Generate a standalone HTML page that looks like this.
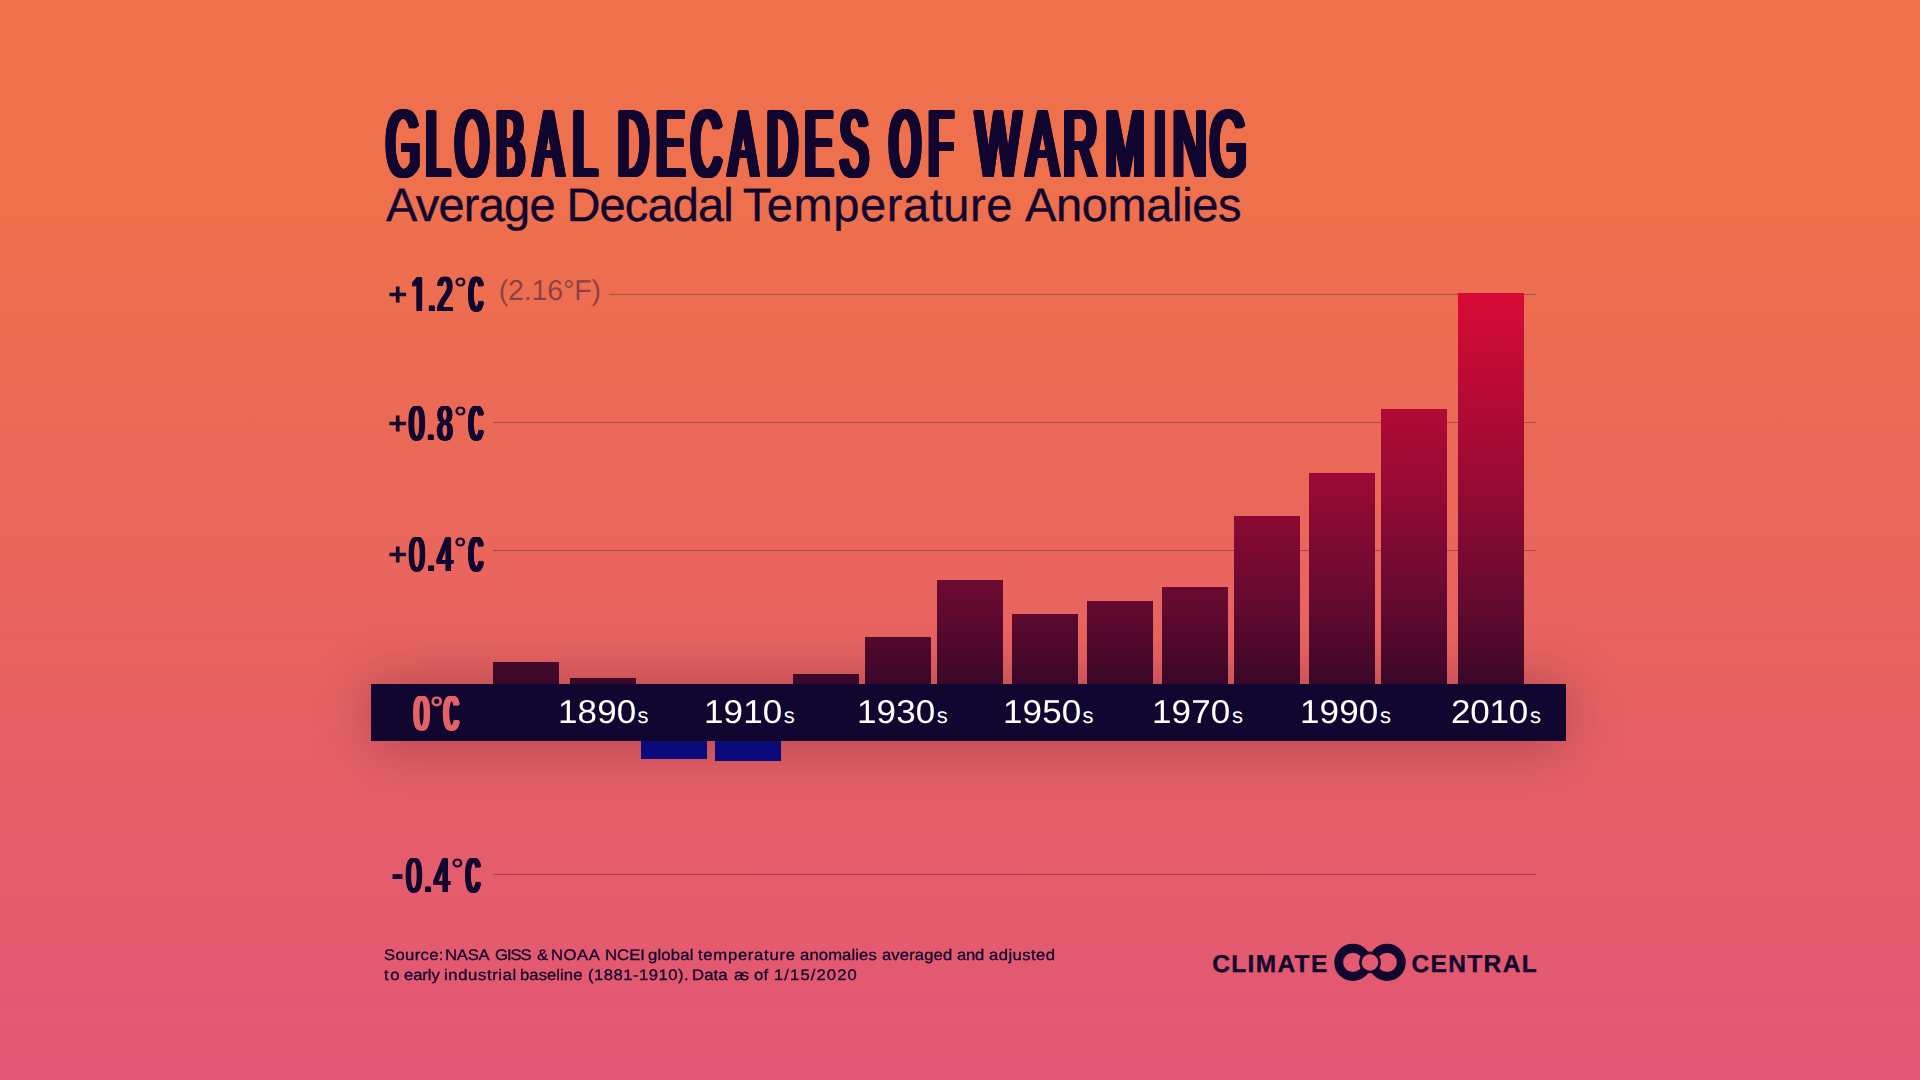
<!DOCTYPE html>
<html lang="en"><head><meta charset="utf-8"><title>Global Decades of Warming</title>
<style>
html,body{margin:0;padding:0;}
body{width:1920px;height:1080px;overflow:hidden;position:relative;font-family:"Liberation Sans",sans-serif;
background:linear-gradient(180deg,#ee704c 0px,#ee704c 205px,#e25675 1080px);}
.abs{position:absolute;}
.w{position:absolute;white-space:nowrap;line-height:1;display:block;transform-origin:0 0;text-rendering:geometricPrecision;}
.lb{position:absolute;left:0;top:0;white-space:nowrap;font-size:0;line-height:0;}
.ib{display:inline-block;vertical-align:top;position:relative;width:0;white-space:nowrap;line-height:1;transform-origin:0 0;text-rendering:geometricPrecision;}
svg text{font-family:"Liberation Sans",sans-serif;text-rendering:geometricPrecision;}
.grid{position:absolute;height:1px;background:rgba(17,6,48,0.31);}
.bar{position:absolute;width:66px;background:linear-gradient(180deg,#d90a37 0,#960a34 50%,#40092c 100%);background-size:66px 391px;background-repeat:no-repeat;}
.neg{position:absolute;width:66px;background:#0a0c8a;}
</style></head><body>

<svg class="abs" style="left:0;top:0;overflow:visible" width="1920" height="260" viewBox="0 0 1920 260" role="heading" aria-label="GLOBAL DECADES OF WARMING">
<text transform="scale(0.4535 1)" x="851.70 938.70 1003.81 1093.78 1177.65 1263.29" y="176" font-size="95.2" fill="#110630" style="text-shadow:-6.81px 0px 0 #110630,-5.67px 0px 0 #110630,-4.54px 0px 0 #110630,-3.40px 0px 0 #110630,-2.27px 0px 0 #110630,-1.13px 0px 0 #110630,1.13px 0px 0 #110630,2.27px 0px 0 #110630,3.40px 0px 0 #110630,4.54px 0px 0 #110630,5.67px 0px 0 #110630,6.81px 0px 0 #110630,-6.81px 1px 0 #110630,-5.67px 1px 0 #110630,-4.54px 1px 0 #110630,-3.40px 1px 0 #110630,-2.27px 1px 0 #110630,-1.13px 1px 0 #110630,0.00px 1px 0 #110630,1.13px 1px 0 #110630,2.27px 1px 0 #110630,3.40px 1px 0 #110630,4.54px 1px 0 #110630,5.67px 1px 0 #110630,6.81px 1px 0 #110630">GLOBAL</text>
<text transform="scale(0.4411 1)" x="1401.57 1487.96 1567.07 1653.16 1739.25 1824.85 1904.38" y="176" font-size="95.2" fill="#110630" style="text-shadow:-7.12px 0px 0 #110630,-5.93px 0px 0 #110630,-4.75px 0px 0 #110630,-3.56px 0px 0 #110630,-2.37px 0px 0 #110630,-1.19px 0px 0 #110630,1.19px 0px 0 #110630,2.37px 0px 0 #110630,3.56px 0px 0 #110630,4.75px 0px 0 #110630,5.93px 0px 0 #110630,7.12px 0px 0 #110630,-7.12px 1px 0 #110630,-5.93px 1px 0 #110630,-4.75px 1px 0 #110630,-3.56px 1px 0 #110630,-2.37px 1px 0 #110630,-1.19px 1px 0 #110630,0.00px 1px 0 #110630,1.19px 1px 0 #110630,2.37px 1px 0 #110630,3.56px 1px 0 #110630,4.75px 1px 0 #110630,5.93px 1px 0 #110630,7.12px 1px 0 #110630">DECADES</text>
<text transform="scale(0.4135 1)" x="2151.71 2246.34" y="176" font-size="95.2" fill="#110630" style="text-shadow:-7.89px 0px 0 #110630,-6.77px 0px 0 #110630,-5.64px 0px 0 #110630,-4.51px 0px 0 #110630,-3.38px 0px 0 #110630,-2.26px 0px 0 #110630,-1.13px 0px 0 #110630,1.13px 0px 0 #110630,2.26px 0px 0 #110630,3.38px 0px 0 #110630,4.51px 0px 0 #110630,5.64px 0px 0 #110630,6.77px 0px 0 #110630,7.89px 0px 0 #110630,-7.89px 1px 0 #110630,-6.77px 1px 0 #110630,-5.64px 1px 0 #110630,-4.51px 1px 0 #110630,-3.38px 1px 0 #110630,-2.26px 1px 0 #110630,-1.13px 1px 0 #110630,0.00px 1px 0 #110630,1.13px 1px 0 #110630,2.26px 1px 0 #110630,3.38px 1px 0 #110630,4.51px 1px 0 #110630,5.64px 1px 0 #110630,6.77px 1px 0 #110630,7.89px 1px 0 #110630">OF</text>
<text transform="scale(0.4975 1)" x="1961.69 2063.36 2136.98 2221.69 2318.47 2356.95 2431.92" y="176" font-size="95.2" fill="#110630" style="text-shadow:-5.81px 0px 0 #110630,-4.65px 0px 0 #110630,-3.49px 0px 0 #110630,-2.32px 0px 0 #110630,-1.16px 0px 0 #110630,1.16px 0px 0 #110630,2.32px 0px 0 #110630,3.49px 0px 0 #110630,4.65px 0px 0 #110630,5.81px 0px 0 #110630,-5.81px 1px 0 #110630,-4.65px 1px 0 #110630,-3.49px 1px 0 #110630,-2.32px 1px 0 #110630,-1.16px 1px 0 #110630,0.00px 1px 0 #110630,1.16px 1px 0 #110630,2.32px 1px 0 #110630,3.49px 1px 0 #110630,4.65px 1px 0 #110630,5.81px 1px 0 #110630">WARMING</text>
</svg>
<div><span class="w" style="left:386.00px;top:181px;font-size:47px;letter-spacing:-0.761px;color:#110630;-webkit-text-stroke:0.35px #110630;">Average</span> <span class="w" style="left:566.50px;top:181px;font-size:47px;letter-spacing:-0.875px;color:#110630;-webkit-text-stroke:0.35px #110630;">Decadal</span> <span class="w" style="left:742.75px;top:181px;font-size:47px;letter-spacing:0.579px;color:#110630;-webkit-text-stroke:0.35px #110630;">Temperature</span> <span class="w" style="left:1025.00px;top:181px;font-size:47px;letter-spacing:-0.368px;color:#110630;-webkit-text-stroke:0.35px #110630;">Anomalies</span></div>
<div class="grid" style="left:609px;top:294px;width:927px;"></div>
<div class="grid" style="left:493px;top:422px;width:1043px;"></div>
<div class="grid" style="left:493px;top:550px;width:1043px;"></div>
<div class="grid" style="left:493px;top:874px;width:1043px;"></div>
<div class="lb"><span class="ib" style="left:388.00px;top:279px;font-size:31.51px;font-weight:bold;transform:scaleX(1.0569);color:#110630;">+</span><span class="ib" style="left:410.58px;top:271px;font-size:48.98px;transform:scaleX(0.5674);color:#110630;text-shadow:-2.91px 0px 0 #110630,-1.94px 0px 0 #110630,-0.97px 0px 0 #110630,0.97px 0px 0 #110630,1.94px 0px 0 #110630,2.91px 0px 0 #110630;letter-spacing:2.69px;clip-path:polygon(-60px -60px,400px -60px,400px 160px,29.63px 160px,29.63px 35.54px,19.57px 35.54px,19.57px 160px,9.39px 160px,9.39px 35.54px,-60px 35.54px);">1.2</span><span class="ib" style="left:453.88px;top:274px;font-size:29.58px;font-weight:bold;transform:scaleX(1.0909);color:#110630;">°</span><span class="ib" style="left:468.89px;top:271px;font-size:48.98px;transform:scaleX(0.3894);color:#110630;text-shadow:-5.29px 0px 0 #110630,-4.23px 0px 0 #110630,-3.17px 0px 0 #110630,-2.12px 0px 0 #110630,-1.06px 0px 0 #110630,1.06px 0px 0 #110630,2.12px 0px 0 #110630,3.17px 0px 0 #110630,4.23px 0px 0 #110630,5.29px 0px 0 #110630;">C</span></div>
<div class="lb"><span class="ib" style="left:388.00px;top:408px;font-size:31.51px;font-weight:bold;transform:scaleX(1.0569);color:#110630;">+</span><span class="ib" style="left:408.92px;top:400px;font-size:48.84px;transform:scaleX(0.5705);color:#110630;text-shadow:-2.89px 0px 0 #110630,-1.93px 0px 0 #110630,-0.96px 0px 0 #110630,0.96px 0px 0 #110630,1.93px 0px 0 #110630,2.89px 0px 0 #110630;letter-spacing:4.35px;">0.8</span><span class="ib" style="left:453.88px;top:403px;font-size:29.58px;font-weight:bold;transform:scaleX(1.0909);color:#110630;">°</span><span class="ib" style="left:468.89px;top:400px;font-size:48.84px;transform:scaleX(0.3905);color:#110630;text-shadow:-5.28px 0px 0 #110630,-4.22px 0px 0 #110630,-3.17px 0px 0 #110630,-2.11px 0px 0 #110630,-1.06px 0px 0 #110630,1.06px 0px 0 #110630,2.11px 0px 0 #110630,3.17px 0px 0 #110630,4.22px 0px 0 #110630,5.28px 0px 0 #110630;">C</span></div>
<div class="lb"><span class="ib" style="left:388.00px;top:539px;font-size:31.51px;font-weight:bold;transform:scaleX(1.0569);color:#110630;">+</span><span class="ib" style="left:408.71px;top:531px;font-size:48.84px;transform:scaleX(0.5852);color:#110630;text-shadow:-2.76px 0px 0 #110630,-1.84px 0px 0 #110630,-0.92px 0px 0 #110630,0.92px 0px 0 #110630,1.84px 0px 0 #110630,2.76px 0px 0 #110630;letter-spacing:3.76px;">0.4</span><span class="ib" style="left:454.22px;top:534px;font-size:29.58px;font-weight:bold;transform:scaleX(1.0585);color:#110630;">°</span><span class="ib" style="left:468.89px;top:531px;font-size:48.84px;transform:scaleX(0.3905);color:#110630;text-shadow:-5.28px 0px 0 #110630,-4.22px 0px 0 #110630,-3.17px 0px 0 #110630,-2.11px 0px 0 #110630,-1.06px 0px 0 #110630,1.06px 0px 0 #110630,2.11px 0px 0 #110630,3.17px 0px 0 #110630,4.22px 0px 0 #110630,5.28px 0px 0 #110630;">C</span></div>
<div class="lb"><span class="ib" style="left:391.36px;top:854px;font-size:40.29px;font-weight:bold;transform:scaleX(0.9775);color:#110630;">-</span><span class="ib" style="left:405.70px;top:852px;font-size:48.84px;transform:scaleX(0.5830);color:#110630;text-shadow:-2.78px 0px 0 #110630,-1.85px 0px 0 #110630,-0.93px 0px 0 #110630,0.93px 0px 0 #110630,1.85px 0px 0 #110630,2.78px 0px 0 #110630;letter-spacing:3.81px;">0.4</span><span class="ib" style="left:451.10px;top:855px;font-size:29.58px;font-weight:bold;transform:scaleX(1.0801);color:#110630;">°</span><span class="ib" style="left:465.87px;top:852px;font-size:48.84px;transform:scaleX(0.3943);color:#110630;text-shadow:-5.20px 0px 0 #110630,-4.16px 0px 0 #110630,-3.12px 0px 0 #110630,-2.08px 0px 0 #110630,-1.04px 0px 0 #110630,1.04px 0px 0 #110630,2.08px 0px 0 #110630,3.12px 0px 0 #110630,4.16px 0px 0 #110630,5.20px 0px 0 #110630;">C</span></div>
<span class="w" style="left:498.75px;top:277px;font-size:28.6px;letter-spacing:-0.175px;color:rgba(17,6,48,0.44);">(2.16°F)</span>
<div class="bar" style="left:493px;top:662px;height:22px;background-position:0 -369px;"></div>
<div class="bar" style="left:570px;top:678px;height:6px;background-position:0 -385px;"></div>
<div class="neg" style="left:641px;top:741px;height:18px;"></div>
<div class="neg" style="left:715px;top:741px;height:20px;"></div>
<div class="bar" style="left:793px;top:674px;height:10px;background-position:0 -381px;"></div>
<div class="bar" style="left:865px;top:637px;height:47px;background-position:0 -344px;"></div>
<div class="bar" style="left:937px;top:580px;height:104px;background-position:0 -287px;"></div>
<div class="bar" style="left:1012px;top:614px;height:70px;background-position:0 -321px;"></div>
<div class="bar" style="left:1087px;top:601px;height:83px;background-position:0 -308px;"></div>
<div class="bar" style="left:1162px;top:587px;height:97px;background-position:0 -294px;"></div>
<div class="bar" style="left:1234px;top:516px;height:168px;background-position:0 -223px;"></div>
<div class="bar" style="left:1309px;top:473px;height:211px;background-position:0 -180px;"></div>
<div class="bar" style="left:1381px;top:409px;height:275px;background-position:0 -116px;"></div>
<div class="bar" style="left:1458px;top:293px;height:391px;background-position:0 0px;"></div>
<div class="abs" style="left:371px;top:684px;width:1195px;height:57px;background:#110630;box-shadow:0 2px 60px rgba(20,0,20,0.30);"></div>
<div class="lb"><span class="ib" style="left:413.96px;top:690px;font-size:48.69px;transform:scaleX(0.5605);color:#e56366;text-shadow:-3.44px 0px 0 #e56366,-2.29px 0px 0 #e56366,-1.15px 0px 0 #e56366,1.15px 0px 0 #e56366,2.29px 0px 0 #e56366,3.44px 0px 0 #e56366;">0</span><span class="ib" style="left:429.53px;top:692px;font-size:32.51px;font-weight:bold;transform:scaleX(1.0319);color:#e56366;">°</span><span class="ib" style="left:444.36px;top:690px;font-size:48.69px;transform:scaleX(0.4089);color:#e56366;text-shadow:-5.56px 0px 0 #e56366,-4.44px 0px 0 #e56366,-3.33px 0px 0 #e56366,-2.22px 0px 0 #e56366,-1.11px 0px 0 #e56366,1.11px 0px 0 #e56366,2.22px 0px 0 #e56366,3.33px 0px 0 #e56366,4.44px 0px 0 #e56366,5.56px 0px 0 #e56366;">C</span></div>
<div class="lb"><span class="ib" style="left:557.88px;top:695px;font-size:33px;letter-spacing:0.119px;color:#fff;transform:scaleX(1.06);">1890</span><span class="ib" style="left:637.40px;top:705px;font-size:22px;letter-spacing:0.000px;color:#fff;">s</span></div>
<div class="lb"><span class="ib" style="left:704.13px;top:695px;font-size:33px;letter-spacing:0.119px;color:#fff;transform:scaleX(1.06);">1910</span><span class="ib" style="left:783.65px;top:705px;font-size:22px;letter-spacing:0.000px;color:#fff;">s</span></div>
<div class="lb"><span class="ib" style="left:857.18px;top:695px;font-size:33px;letter-spacing:0.119px;color:#fff;transform:scaleX(1.06);">1930</span><span class="ib" style="left:936.70px;top:705px;font-size:22px;letter-spacing:0.000px;color:#fff;">s</span></div>
<div class="lb"><span class="ib" style="left:1003.08px;top:695px;font-size:33px;letter-spacing:0.119px;color:#fff;transform:scaleX(1.06);">1950</span><span class="ib" style="left:1082.60px;top:705px;font-size:22px;letter-spacing:0.000px;color:#fff;">s</span></div>
<div class="lb"><span class="ib" style="left:1152.48px;top:695px;font-size:33px;letter-spacing:0.119px;color:#fff;transform:scaleX(1.06);">1970</span><span class="ib" style="left:1232.00px;top:705px;font-size:22px;letter-spacing:0.000px;color:#fff;">s</span></div>
<div class="lb"><span class="ib" style="left:1300.38px;top:695px;font-size:33px;letter-spacing:0.119px;color:#fff;transform:scaleX(1.06);">1990</span><span class="ib" style="left:1379.90px;top:705px;font-size:22px;letter-spacing:0.000px;color:#fff;">s</span></div>
<div class="lb"><span class="ib" style="left:1451.44px;top:695px;font-size:33px;letter-spacing:-0.215px;color:#fff;transform:scaleX(1.06);">2010</span><span class="ib" style="left:1529.90px;top:705px;font-size:22px;letter-spacing:0.000px;color:#fff;">s</span></div>
<div><span class="w" style="left:383.50px;top:948px;font-size:15.3px;letter-spacing:0.306px;color:#110630;transform:scaleX(1.09);-webkit-text-stroke:0.3px #110630;">Source:</span> <span class="w" style="left:445.21px;top:948px;font-size:15.3px;letter-spacing:-0.224px;color:#110630;transform:scaleX(1.09);-webkit-text-stroke:0.3px #110630;">NASA</span> <span class="w" style="left:495.25px;top:948px;font-size:15.3px;letter-spacing:-1.001px;color:#110630;transform:scaleX(1.09);-webkit-text-stroke:0.3px #110630;">GISS</span> <span class="w" style="left:536.90px;top:948px;font-size:15.3px;letter-spacing:0.000px;color:#110630;transform:scaleX(1.09);-webkit-text-stroke:0.3px #110630;">&amp;</span> <span class="w" style="left:550.61px;top:948px;font-size:15.3px;letter-spacing:0.510px;color:#110630;transform:scaleX(1.09);-webkit-text-stroke:0.3px #110630;">NOAA</span> <span class="w" style="left:604.61px;top:948px;font-size:15.3px;letter-spacing:0.036px;color:#110630;transform:scaleX(1.09);-webkit-text-stroke:0.3px #110630;">NCEI</span> <span class="w" style="left:648.25px;top:948px;font-size:15.3px;letter-spacing:0.171px;color:#110630;transform:scaleX(1.09);-webkit-text-stroke:0.3px #110630;">global</span> <span class="w" style="left:697.90px;top:948px;font-size:15.3px;letter-spacing:0.647px;color:#110630;transform:scaleX(1.09);-webkit-text-stroke:0.3px #110630;">temperature</span> <span class="w" style="left:799.80px;top:948px;font-size:15.3px;letter-spacing:0.094px;color:#110630;transform:scaleX(1.09);-webkit-text-stroke:0.3px #110630;">anomalies</span> <span class="w" style="left:882.00px;top:948px;font-size:15.3px;letter-spacing:0.082px;color:#110630;transform:scaleX(1.09);-webkit-text-stroke:0.3px #110630;">averaged</span> <span class="w" style="left:957.20px;top:948px;font-size:15.3px;letter-spacing:-0.260px;color:#110630;transform:scaleX(1.09);-webkit-text-stroke:0.3px #110630;">and</span> <span class="w" style="left:989.25px;top:948px;font-size:15.3px;letter-spacing:0.402px;color:#110630;transform:scaleX(1.09);-webkit-text-stroke:0.3px #110630;">adjusted</span></div>
<div><span class="w" style="left:383.50px;top:968px;font-size:15.3px;letter-spacing:1.511px;color:#110630;transform:scaleX(1.09);-webkit-text-stroke:0.3px #110630;">to</span> <span class="w" style="left:403.60px;top:968px;font-size:15.3px;letter-spacing:-0.086px;color:#110630;transform:scaleX(1.09);-webkit-text-stroke:0.3px #110630;">early</span> <span class="w" style="left:443.91px;top:968px;font-size:15.3px;letter-spacing:0.560px;color:#110630;transform:scaleX(1.09);-webkit-text-stroke:0.3px #110630;">industrial</span> <span class="w" style="left:520.40px;top:968px;font-size:15.3px;letter-spacing:0.038px;color:#110630;transform:scaleX(1.09);-webkit-text-stroke:0.3px #110630;">baseline</span> <span class="w" style="left:587.90px;top:968px;font-size:15.3px;letter-spacing:0.437px;color:#110630;transform:scaleX(1.09);-webkit-text-stroke:0.3px #110630;">(1881-1910).</span> <span class="w" style="left:691.91px;top:968px;font-size:15.3px;letter-spacing:0.102px;color:#110630;transform:scaleX(1.09);-webkit-text-stroke:0.3px #110630;">Data</span> <span class="w" style="left:733.50px;top:968px;font-size:15.3px;letter-spacing:-2.287px;color:#110630;transform:scaleX(1.09);-webkit-text-stroke:0.3px #110630;">as</span> <span class="w" style="left:754.30px;top:968px;font-size:15.3px;letter-spacing:0.162px;color:#110630;transform:scaleX(1.09);-webkit-text-stroke:0.3px #110630;">of</span> <span class="w" style="left:773.61px;top:968px;font-size:15.3px;letter-spacing:0.994px;color:#110630;transform:scaleX(1.09);-webkit-text-stroke:0.3px #110630;">1/15/2020</span></div>
<div><span class="w" style="left:1212.20px;top:953px;font-size:24.5px;letter-spacing:1.331px;color:#110630;font-weight:bold;-webkit-text-stroke:0.35px #110630;">CLIMATE</span>
<svg class="abs" style="left:1330px;top:940px;" width="80" height="46" viewBox="1330 940 80 46">
<defs><mask id="lm" maskUnits="userSpaceOnUse" x="1330" y="940" width="80" height="46"><rect x="1330" y="940" width="80" height="46" fill="#fff"/><circle cx="1370" cy="962.4" r="8.25" fill="#000"/></mask></defs>
<g mask="url(#lm)" fill="none" stroke="#110630">
<circle cx="1352.85" cy="962.4" r="14.15" stroke-width="8.9"/>
<circle cx="1387.15" cy="962.4" r="14.15" stroke-width="8.9"/>
<circle cx="1370" cy="962.4" r="9.55" stroke-width="2.7"/>
</g>
</svg>
<span class="w" style="left:1411.50px;top:953px;font-size:24.5px;letter-spacing:1.353px;color:#110630;font-weight:bold;-webkit-text-stroke:0.35px #110630;">CENTRAL</span></div>
</body></html>
